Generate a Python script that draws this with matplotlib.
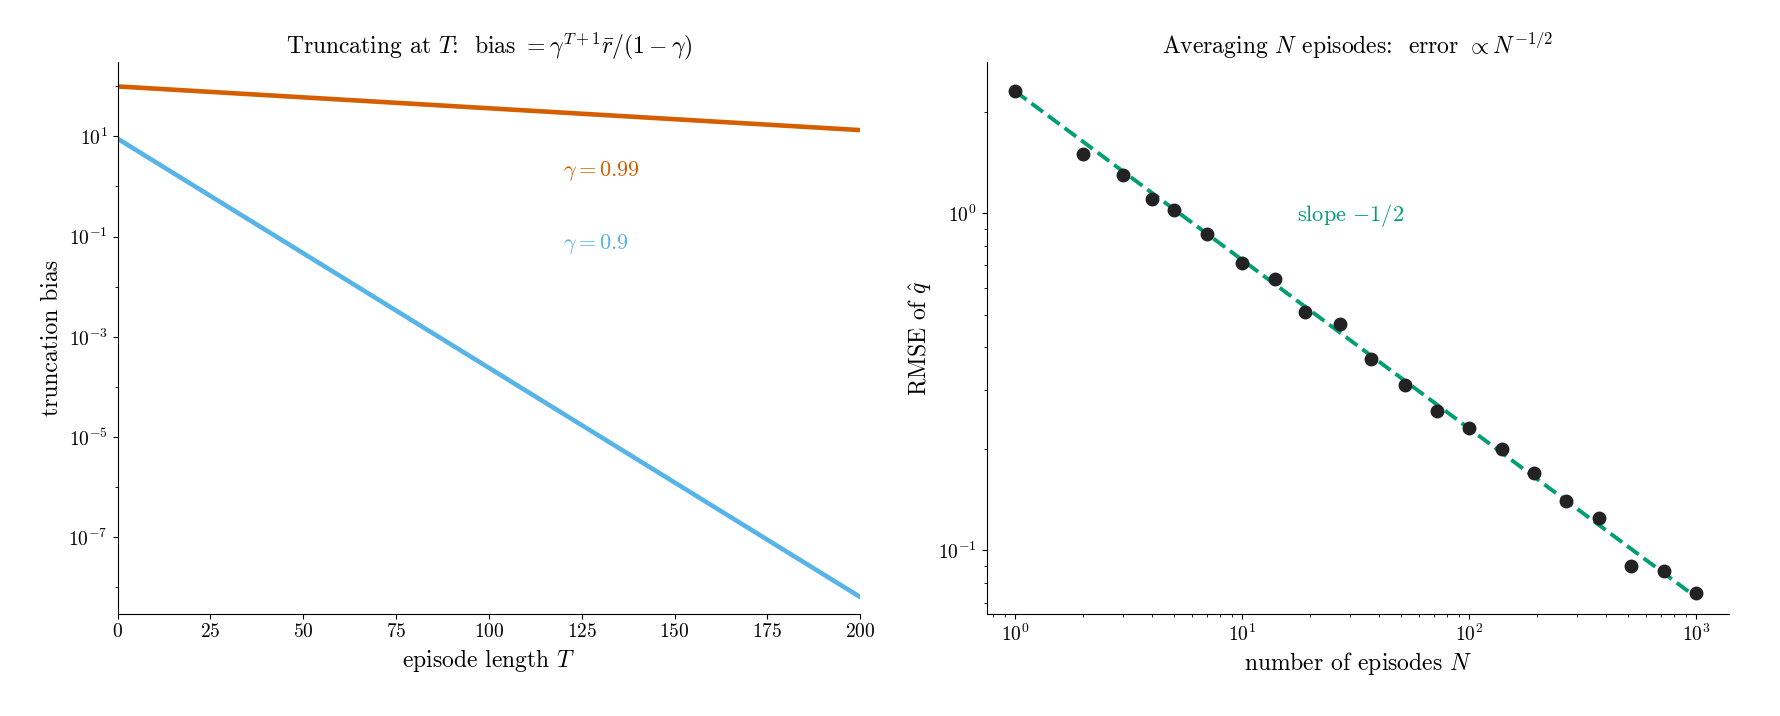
import matplotlib
matplotlib.use("Agg")
import matplotlib.pyplot as plt
from matplotlib.ticker import LogLocator

plt.rcParams['font.family'] = 'serif'
plt.rcParams['font.serif'] = ['cmr10']
plt.rcParams['mathtext.fontset'] = 'cm'
plt.rcParams['axes.formatter.use_mathtext'] = True
plt.rcParams['font.size'] = 14
plt.rcParams['xtick.labelsize'] = 14
plt.rcParams['ytick.labelsize'] = 14

T_ends = [0, 200]
bias_099 = [99.0, 13.3]
bias_09 = [9.0, 6.4e-9]

# right panel: RMSE vs number of episodes
N = [1, 2, 3, 4, 5, 7, 10, 14, 19, 27, 37, 52, 72, 100, 139, 193, 268, 373, 518, 720, 1000]
rmse = [2.3, 1.5, 1.3, 1.1, 1.02, 0.87, 0.71, 0.64, 0.51, 0.47, 0.37, 0.31, 0.26,
        0.23, 0.20, 0.17, 0.14, 0.125, 0.09, 0.087, 0.075]
fit_N = [1, 1000]
fit_rmse = [2.3, 0.0727]

orange = '#D55E00'
blue = '#56B4E9'
green = '#009E73'

fig, (ax1, ax2) = plt.subplots(1, 2, figsize=(17.81, 7.16), dpi=100)
fig.subplots_adjust(left=0.066, right=0.971, top=0.913, bottom=0.143, wspace=0.17)

ax1.plot(T_ends, bias_099, color=orange, lw=3.3)
ax1.plot(T_ends, bias_09, color=blue, lw=3.3)
ax1.set_yscale('log')
ax1.set_xlim(0, 200)
ax1.set_ylim(3e-9, 3e2)
ax1.yaxis.set_major_locator(LogLocator(base=100, subs=[10.0]))
ax1.yaxis.set_minor_locator(LogLocator(base=10, numticks=30))
ax1.yaxis.set_minor_formatter(plt.NullFormatter())
ax1.text(120, 2, r'$\gamma = 0.99$', color=orange, fontsize=16, va='center')
ax1.text(120, 0.07, r'$\gamma = 0.9$', color=blue, fontsize=16, va='center')
ax1.set_xlabel(r'episode length $T$', fontsize=17)
ax1.set_ylabel('truncation bias', fontsize=17)
ax1.set_title(r'Truncating at $T$:  bias $=\gamma^{T+1}\bar{r}/(1-\gamma)$', fontsize=17)

ax2.plot(fit_N, fit_rmse, '--', color=green, lw=2.8)
ax2.plot(N, rmse, 'o', color='#222222', ms=9)
ax2.set_xscale('log')
ax2.set_yscale('log')
ax2.set_xlim(0.75, 1400)
ax2.set_ylim(0.065, 2.8)
ax2.text(30, 0.95, r'slope $-1/2$', color=green, fontsize=16, ha='center')
ax2.set_xlabel(r'number of episodes $N$', fontsize=17)
ax2.set_ylabel(r'RMSE of $\hat{q}$', fontsize=17)
ax2.set_title(r'Averaging $N$ episodes:  error $\propto N^{-1/2}$', fontsize=17)

for ax in (ax1, ax2):
    ax.spines['top'].set_visible(False)
    ax.spines['right'].set_visible(False)

fig.savefig('out.png', dpi=100)
